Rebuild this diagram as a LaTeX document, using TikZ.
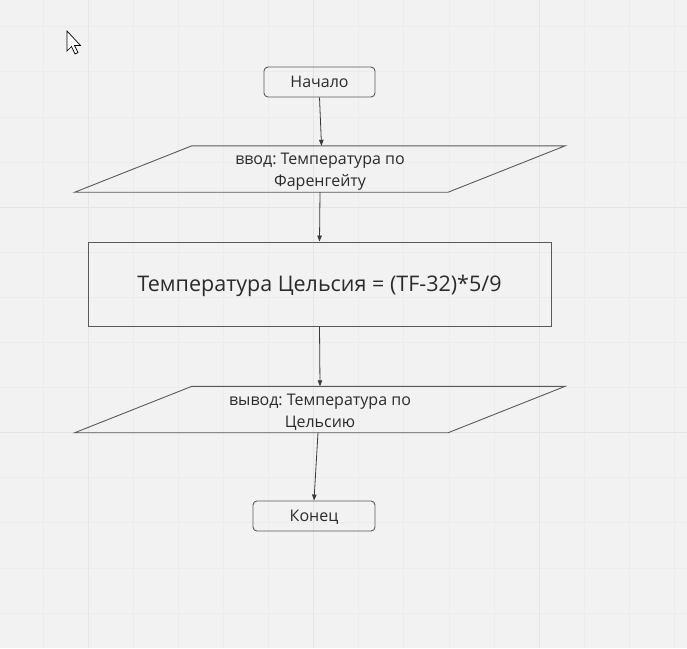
\documentclass[tikz,border=0pt]{standalone}
\usepackage{fontspec}
\setmainfont{Open Sans}
\frenchspacing
\usetikzlibrary{arrows.meta,calc}
\definecolor{bg}{HTML}{F2F2F2}
\definecolor{gridminor}{HTML}{ECECEC}
\definecolor{gridmajor}{HTML}{E5E5E5}
\definecolor{shapeline}{HTML}{5A5A5A}
\definecolor{txt}{HTML}{2B2B2B}
\definecolor{arrowc}{HTML}{3A3A3A}
\tikzset{
  term/.style={draw=shapeline, line width=0.9pt, rounded corners=4pt, text=txt, font=\fontsize{16}{22}\selectfont, inner sep=0pt},
  iobox/.style={inner sep=0pt, text=txt, align=center, font=\fontsize{16}{22}\selectfont, minimum width=373pt, minimum height=46pt},
  procbox/.style={draw=shapeline, line width=0.9pt, text=txt, font=\fontsize{21.5}{26}\selectfont, inner sep=0pt},
  para/.style={draw=shapeline, line width=0.9pt},
  flow/.style={draw=arrowc, line width=0.8pt, -{Triangle[length=6pt,width=4.5pt]}}
}
\begin{document}
\begin{tikzpicture}[x=1pt,y=-1pt]
\fill[bg] (0,0) rectangle (687,648);
\useasboundingbox (0,0) rectangle (687,648);
% grid
\foreach \k in {-1,...,13} {
  \draw[gridminor, line width=0.6pt] ({88+45.1*\k},0) -- ({88+45.1*\k},648);
}
\foreach \k in {-4,...,9} {
  \draw[gridminor, line width=0.6pt] (0,{207+45.1*\k}) -- (687,{207+45.1*\k});
}
\foreach \k in {0,1,2} {
  \draw[gridmajor, line width=0.8pt] ({88+225.5*\k},0) -- ({88+225.5*\k},648);
}
\foreach \k in {0,1} {
  \draw[gridmajor, line width=0.8pt] (0,{207+225.5*\k}) -- (687,{207+225.5*\k});
}
% cursor
\draw[fill=white, draw=black, line width=0.7pt, line join=miter]
  (67,31) -- (67,51) -- (71.5,46.5) -- (75,54) -- (78,52.5) -- (74.5,45.5) -- (80.5,45.5) -- cycle;
% nodes
\node[term, minimum width=111pt, minimum height=30pt] (start) at (319.5,82) {Начало};
\node[iobox] (in) at (320,169) {\rule{0pt}{16.5pt}ввод: Температура по\\Фаренгейту};
\draw[para] ($(in.north west)+(58.5,0)$) -- ($(in.north east)+(58.5,0)$) -- ($(in.south east)+(-58.5,0)$) -- ($(in.south west)+(-58.5,0)$) -- cycle;
\node[procbox, minimum width=463pt, minimum height=84pt] (calc) at (319.5,284) {\rule{0pt}{20.5pt}Температура Цельсия = (TF-32)*5/9};
\node[iobox] (out) at (320,409.5) {\rule{0pt}{16.5pt}вывод: Температура по\\Цельсию};
\draw[para] ($(out.north west)+(58.5,0)$) -- ($(out.north east)+(58.5,0)$) -- ($(out.south east)+(-58.5,0)$) -- ($(out.south west)+(-58.5,0)$) -- cycle;
\node[term, minimum width=122pt, minimum height=30pt] (end) at (314,516) {\rule{0pt}{13.5pt}Конец};
% connectors
\draw[flow] (start.south) -- ([xshift=1.5pt]in.north);
\draw[flow] (in.south) -- (calc.north);
\draw[flow] (calc.south) -- (out.north);
\draw[flow] ([xshift=-2pt]out.south) -- (end.north);
\end{tikzpicture}
\end{document}
